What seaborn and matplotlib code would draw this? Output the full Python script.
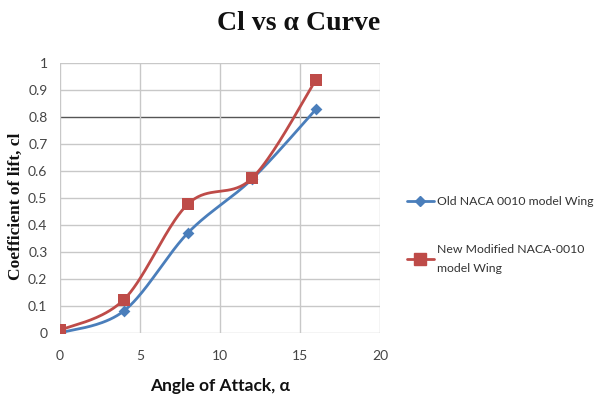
import numpy as np
import pandas as pd
import matplotlib
matplotlib.use("Agg")
import matplotlib.pyplot as plt
from matplotlib.lines import Line2D
import seaborn as sns

# ---- data ----
alpha = [0, 4, 8, 12, 16]
cl_old = [0.0, 0.082, 0.371, 0.57, 0.829]
cl_new = [0.01, 0.124, 0.478, 0.573, 0.938]
series_names = ["Old NACA 0010 model Wing", "New Modified NACA-0010\nmodel Wing"]
x_ticks = [0, 5, 10, 15, 20]
y_ticks = [0, 0.1, 0.2, 0.3, 0.4, 0.5, 0.6, 0.7, 0.8, 0.9, 1]
y_tick_labels = ["0", "0.1", "0.2", "0.3", "0.4", "0.5", "0.6", "0.7", "0.8", "0.9", "1"]

BLUE = "#4A7EBB"
RED = "#BE4B48"


def smooth(xs, ys, n=40):
    """Excel-style smoothed line (Catmull-Rom bezier) through the data points."""
    xs = np.asarray(xs, float)
    ys = np.asarray(ys, float)
    px, py = [], []
    m = len(xs)
    for i in range(m - 1):
        x0, y0 = (xs[i - 1], ys[i - 1]) if i > 0 else (xs[i], ys[i])
        x1, y1 = xs[i], ys[i]
        x2, y2 = xs[i + 1], ys[i + 1]
        x3, y3 = (xs[i + 2], ys[i + 2]) if i + 2 < m else (xs[i + 1], ys[i + 1])
        c1x, c1y = x1 + (x2 - x0) / 6, y1 + (y2 - y0) / 6
        c2x, c2y = x2 - (x3 - x1) / 6, y2 - (y3 - y1) / 6
        t = np.linspace(0, 1, n)
        bx = (1 - t) ** 3 * x1 + 3 * (1 - t) ** 2 * t * c1x + 3 * (1 - t) * t ** 2 * c2x + t ** 3 * x2
        by = (1 - t) ** 3 * y1 + 3 * (1 - t) ** 2 * t * c1y + 3 * (1 - t) * t ** 2 * c2y + t ** 3 * y2
        px.extend(bx if i == 0 else bx[1:])
        py.extend(by if i == 0 else by[1:])
    return np.array(px), np.array(py)


sns.set_theme(style="white")
plt.rcParams["font.family"] = ["Lato", "DejaVu Sans"]

fig = plt.figure(figsize=(5.97, 3.98), dpi=100)
ax = fig.add_axes([0.1005, 0.1633, 0.536, 0.6784])

# grid
for yv in y_ticks:
    ax.axhline(yv, color="#555555" if abs(yv - 0.8) < 1e-9 else "#C8C8C8",
               lw=1.0, zorder=0)
for xv in x_ticks:
    ax.axvline(xv, color="#C8C8C8", lw=1.0, zorder=0)

for ys, color, marker, ms in [(cl_old, BLUE, "D", 6), (cl_new, RED, "s", 9)]:
    sx, sy = smooth(alpha, ys)
    sns.lineplot(x=sx, y=sy, ax=ax, color=color, lw=2.0, sort=False,
                 estimator=None, zorder=3)
    sns.scatterplot(x=alpha, y=ys, ax=ax, color=color, marker=marker,
                    s=ms ** 2, linewidth=0, zorder=4)

ax.set_xlim(0, 20)
ax.set_ylim(0, 1)
ax.set_xticks(x_ticks)
ax.set_yticks(y_ticks)
ax.set_yticklabels(y_tick_labels)
ax.tick_params(axis="both", length=0, labelsize=10, colors="#444444")
ax.tick_params(axis="x", pad=12)
ax.tick_params(axis="y", pad=9)
for s in ax.spines.values():
    s.set_visible(False)
ax.set_xlabel("Angle of Attack, α", fontsize=12.5, fontweight="bold", color="#111111",
              labelpad=12)
ax.set_ylabel("Coefficient of lift, cl", fontsize=12.5, fontweight="bold",
              family=["Liberation Serif", "DejaVu Serif"], color="#111111")
ax.yaxis.set_label_coords(-0.112, 0.47)

fig.text(0.5, 0.94, "Cl vs α Curve", ha="center", va="center", fontsize=20,
         fontweight="bold", family=["Liberation Serif", "DejaVu Serif"], color="#111111")

handles = [
    Line2D([0], [0], color=BLUE, lw=2, marker="D", markersize=5),
    Line2D([0], [0], color=RED, lw=2, marker="s", markersize=8),
]
fig.legend(handles, series_names, loc="center left", bbox_to_anchor=(0.663, 0.41),
           frameon=False, fontsize=8.8, handlelength=2.2, handletextpad=0.25,
           labelspacing=3.0, labelcolor="#333333")
plt.setp(fig.legends[0].get_texts(), linespacing=1.9)

fig.savefig("out.png", dpi=100)
